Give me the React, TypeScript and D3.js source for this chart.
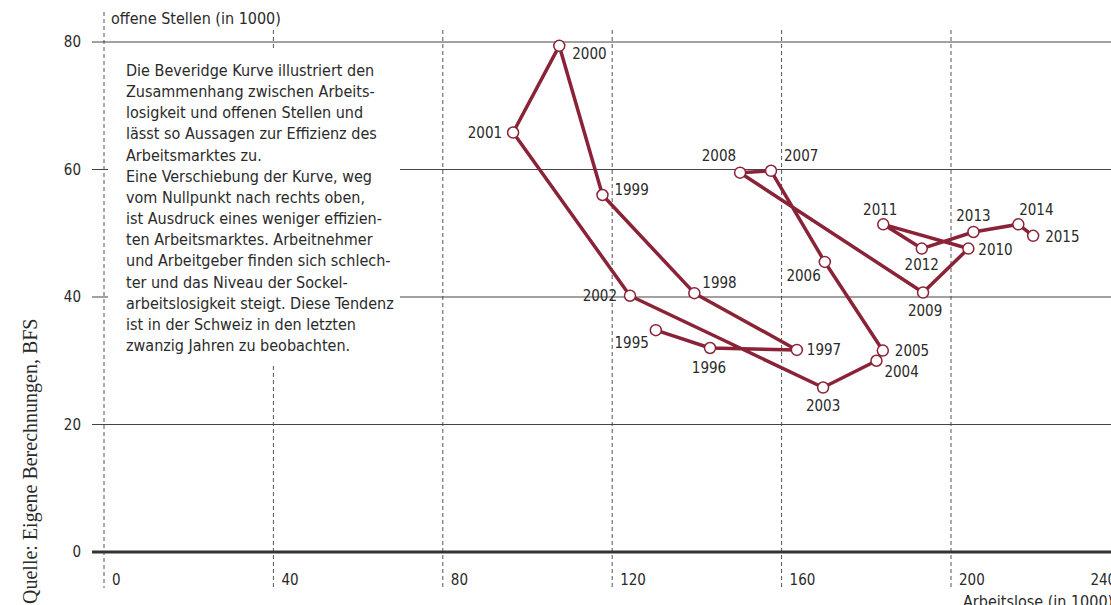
import React from "react";
import * as d3 from "d3";

// Beveridge-Kurve Schweiz, Werte in 1000
const years = [1995, 1996, 1997, 1998, 1999, 2000, 2001, 2002, 2003, 2004, 2005, 2006, 2007, 2008, 2009, 2010, 2011, 2012, 2013, 2014, 2015];
const arbeitslose = [130.3, 143.1, 163.6, 139.4, 117.7, 107.5, 96.6, 124.2, 169.8, 182.4, 183.9, 170.2, 157.5, 150.2, 193.4, 204.1, 184.0, 193.1, 205.3, 215.9, 219.4];
const offeneStellen = [34.8, 32.0, 31.7, 40.6, 56.0, 79.4, 65.8, 40.2, 25.8, 30.0, 31.6, 45.5, 59.8, 59.5, 40.7, 47.6, 51.4, 47.6, 50.2, 51.4, 49.6];

const xTicks = [0, 40, 80, 120, 160, 200, 240];
const yTicks = [0, 20, 40, 60, 80];

const infoLines = [
  "Die Beveridge Kurve illustriert den",
  "Zusammenhang zwischen Arbeits-",
  "losigkeit und offenen Stellen und",
  "lässt so Aussagen zur Effizienz des",
  "Arbeitsmarktes zu.",
  "Eine Verschiebung der Kurve, weg",
  "vom Nullpunkt nach rechts oben,",
  "ist Ausdruck eines weniger effizien-",
  "ten Arbeitsmarktes. Arbeitnehmer",
  "und Arbeitgeber finden sich schlech-",
  "ter und das Niveau der Sockel-",
  "arbeitslosigkeit steigt. Diese Tendenz",
  "ist in der Schweiz in den letzten",
  "zwanzig Jahren zu beobachten.",
];

// label placement per year: [anchor, dx, dy]
const labelPos: Record<number, [string, number, number]> = {
  1995: ["end", -7, 13],
  1996: ["middle", -1, 20],
  1997: ["start", 10, 0],
  1998: ["start", 8, -10],
  1999: ["start", 12, -5],
  2000: ["start", 13, 8],
  2001: ["end", -11, 0],
  2002: ["end", -13, 0],
  2003: ["middle", 0, 18],
  2004: ["start", 8, 11],
  2005: ["start", 12, 0],
  2006: ["end", -4, 14],
  2007: ["start", 13, -15],
  2008: ["end", -4, -17],
  2009: ["middle", 2, 18],
  2010: ["start", 10, 1],
  2011: ["middle", -3, -15],
  2012: ["middle", 0, 16],
  2013: ["middle", 0, -16],
  2014: ["middle", 18, -15],
  2015: ["start", 12, 1],
};

const width = 1111;
const height = 605;
const font = "'DejaVu Sans Condensed', Roboto, sans-serif";
const red = "#8a2337";
const ink = "#2a2a2a";

export default function App() {
  const x = d3.scaleLinear().domain([0, 200]).range([104, 951]);
  const y = d3.scaleLinear().domain([0, 80]).range([552, 42]);

  const points = years.map((yr, i) => ({ yr, a: arbeitslose[i], o: offeneStellen[i] }));
  const line = d3
    .line<{ a: number; o: number }>()
    .x(d => x(d.a))
    .y(d => y(d.o));

  return (
    <svg
      width={width}
      height={height}
      style={{ position: "absolute", left: 0, top: 0, background: "#fff" }}
      fontFamily={font}
    >
      {/* vertical dashed lines */}
      {xTicks.map(t => (
        <line
          key={"v" + t}
          x1={x(t)}
          x2={x(t)}
          y1={t === 0 ? 12 : 30}
          y2={588}
          stroke="#555"
          strokeWidth={1}
          strokeDasharray="4,3"
        />
      ))}

      {/* horizontal gridlines */}
      {yTicks.map(t => (
        <line
          key={"h" + t}
          x1={92}
          x2={width}
          y1={y(t)}
          y2={y(t)}
          stroke={t === 0 ? "#333" : "#444"}
          strokeWidth={t === 0 ? 3 : 1}
        />
      ))}

      {/* info box */}
      <rect x={108} y={50} width={292} height={316} fill="#fff" />
      <text fontSize={16} fill={ink}>
        {infoLines.map((l, i) => (
          <tspan key={i} x={126} y={76 + i * 21.15}>
            {l}
          </tspan>
        ))}
      </text>

      {/* y tick labels */}
      {yTicks.map(t => (
        <text key={"yl" + t} x={81} y={y(t)} dy="0.35em" textAnchor="end" fontSize={15} fill={ink}>
          {t}
        </text>
      ))}

      {/* x tick labels (last one sits left of its line, at the edge) */}
      {xTicks.map((t, i) => (
        <text
          key={"xl" + t}
          x={i === xTicks.length - 1 ? x(t) - 30 : x(t) + 8}
          y={585}
          fontSize={15}
          fill={ink}
        >
          {t}
        </text>
      ))}

      <text x={111} y={24} fontSize={16} fill={ink}>
        offene Stellen (in 1000)
      </text>
      <text x={963} y={607} fontSize={16} fill={ink}>
        Arbeitslose (in 1000)
      </text>
      <text
        transform="translate(37,604) rotate(-90)"
        fontFamily="'Liberation Serif', serif"
        fontSize={20}
        fill={ink}
      >
        Quelle: Eigene Berechnungen, BFS
      </text>

      {/* curve */}
      <path d={line(points) || ""} fill="none" stroke={red} strokeWidth={3.5} strokeLinejoin="round" />
      {points.map(p => (
        <circle key={"c" + p.yr} cx={x(p.a)} cy={y(p.o)} r={5.5} fill="#fff" stroke={red} strokeWidth={1.5} />
      ))}
      {points.map(p => {
        const [anchor, dx, dy] = labelPos[p.yr];
        return (
          <text
            key={"t" + p.yr}
            x={x(p.a) + dx}
            y={y(p.o) + dy}
            dy="0.35em"
            textAnchor={anchor}
            fontSize={15}
            fill={ink}
          >
            {p.yr}
          </text>
        );
      })}
    </svg>
  );
}
